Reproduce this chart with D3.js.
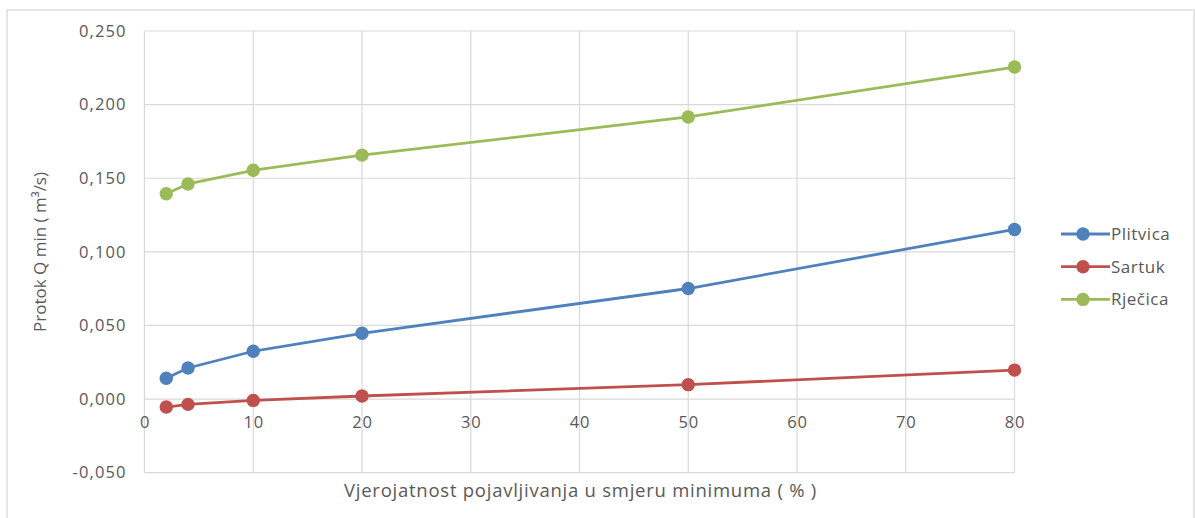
<!DOCTYPE html>
<html>
<head>
<meta charset="utf-8">
<script src="https://cdn.jsdelivr.net/npm/d3@7"></script>
<style>
  html, body { margin: 0; padding: 0; background: #fff; }
  svg { display: block; }
  text { font-family: "Open Sans", "Liberation Sans", sans-serif; fill: #595959; }
</style>
</head>
<body>
<svg id="chart" width="1195" height="518"></svg>
<script>
// Return-period probabilities (%) and minimum flows (m³/s)
const probabilities = [2, 4, 10, 20, 50, 80];
const plitvica = [0.0141, 0.0211, 0.0325, 0.0447, 0.0751, 0.1152];
const sartuk   = [-0.0054, -0.0036, -0.0009, 0.0021, 0.0098, 0.0197];
const rjecica  = [0.1395, 0.1461, 0.1554, 0.1657, 0.1916, 0.2255];
const seriesNames = ["Plitvica", "Sartuk", "Rječica"];
const seriesColors = ["#4F81BD", "#C0504D", "#9BBB59"];
const xTicks = [0, 10, 20, 30, 40, 50, 60, 70, 80];
const yTicks = [-0.05, 0, 0.05, 0.1, 0.15, 0.2, 0.25];

const series = [plitvica, sartuk, rjecica].map((vals, i) => ({
  name: seriesNames[i],
  color: seriesColors[i],
  points: probabilities.map((p, j) => ({ x: p, y: vals[j] }))
}));

const svg = d3.select("#chart");

// outer chart frame
svg.append("rect")
  .attr("x", 7).attr("y", 10)
  .attr("width", 1187).attr("height", 520)
  .attr("fill", "#fff").attr("stroke", "#d9d9d9").attr("stroke-width", 1.3);

const plot = { left: 144.5, right: 1014.5, top: 31, bottom: 472.7 };

const x = d3.scaleLinear().domain([0, 80]).range([plot.left, plot.right]);
const y = d3.scaleLinear().domain([-0.05, 0.25]).range([plot.bottom, plot.top]);

// gridlines
const grid = svg.append("g");
grid.selectAll("line.v").data(xTicks).join("line")
  .attr("x1", d => x(d)).attr("x2", d => x(d))
  .attr("y1", plot.top).attr("y2", plot.bottom)
  .attr("stroke", "#d9d9d9").attr("stroke-width", 1.2);
grid.selectAll("line.h").data(yTicks).join("line")
  .attr("x1", plot.left).attr("x2", plot.right)
  .attr("y1", d => y(d)).attr("y2", d => y(d))
  .attr("stroke", "#d9d9d9").attr("stroke-width", 1.2);

const fmt = d => d3.format(".3f")(d).replace(".", ",").replace("−", "-");

// y axis labels
const yAxis = svg.append("g")
  .attr("transform", `translate(${plot.left},0)`)
  .call(d3.axisLeft(y).tickValues(yTicks).tickFormat(fmt).tickSize(0).tickPadding(18));
yAxis.select(".domain").remove();
yAxis.selectAll("text").style("font-size", "16.5px").style("letter-spacing", "1.1px").attr("fill", "#595959");

// x axis labels along the zero line
const xAxis = svg.append("g")
  .attr("transform", `translate(0,${y(0)})`)
  .call(d3.axisBottom(x).tickValues(xTicks).tickFormat(d3.format("d")).tickSize(0).tickPadding(17));
xAxis.select(".domain").remove();
xAxis.selectAll("text").style("font-size", "16.5px").style("letter-spacing", "0.8px").attr("fill", "#595959");

// axis titles
svg.append("text")
  .attr("x", (plot.left + plot.right) / 2 + 1)
  .attr("y", 497)
  .attr("text-anchor", "middle")
  .style("font-size", "18.5px")
  .style("letter-spacing", "0.75px")
  .text("Vjerojatnost pojavljivanja u smjeru minimuma ( % )");

svg.append("text")
  .attr("transform", "translate(46,252) rotate(-90)")
  .attr("text-anchor", "middle")
  .style("font-size", "17px")
  .text("Protok Q min ( m³/s)");

// series lines and markers
const line = d3.line().x(d => x(d.x)).y(d => y(d.y));
const g = svg.append("g");
series.forEach(s => {
  g.append("path")
    .datum(s.points)
    .attr("d", line)
    .attr("fill", "none")
    .attr("stroke", s.color)
    .attr("stroke-width", 2.8)
    .attr("stroke-linejoin", "round");
  g.selectAll(null).data(s.points).join("circle")
    .attr("cx", d => x(d.x)).attr("cy", d => y(d.y))
    .attr("r", 6.7)
    .attr("fill", s.color);
});

// legend
const legend = svg.append("g").attr("transform", "translate(1061,234)");
series.forEach((s, i) => {
  const row = legend.append("g").attr("transform", `translate(0,${i * 32.7})`);
  row.append("line").attr("x1", 0).attr("x2", 49).attr("y1", 0).attr("y2", 0)
    .attr("stroke", s.color).attr("stroke-width", 2.8);
  row.append("circle").attr("cx", 22).attr("cy", 0).attr("r", 6.7).attr("fill", s.color);
  row.append("text").attr("x", 50).attr("y", 0).attr("dy", "0.35em")
    .style("font-size", "17px").style("letter-spacing", "0.5px").text(s.name);
});
</script>
</body>
</html>
